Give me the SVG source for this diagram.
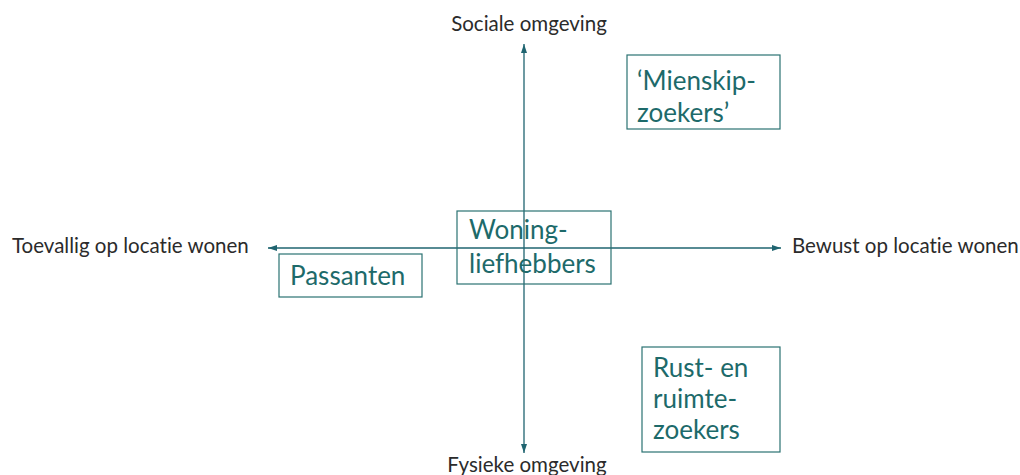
<svg xmlns="http://www.w3.org/2000/svg" width="1020" height="475" viewBox="0 0 1020 475">
<defs>
<marker id="ah" markerWidth="9" markerHeight="8" refX="9" refY="4" orient="auto" markerUnits="userSpaceOnUse">
<path d="M0,1 L9,4 L0,7 Z" fill="#1f6470"/>
</marker>
<style>
.ax{stroke:#1f6470;stroke-width:1.3;fill:none}
.lbl{font-family:Lato,"Liberation Sans",sans-serif;font-size:20.5px;fill:#2b2b2b;font-variant-ligatures:none}
.box{fill:none;stroke:#2a7272;stroke-width:1.2}
.nt{font-family:Lato,"Liberation Sans",sans-serif;font-size:26px;fill:#1d6a6a;font-variant-ligatures:none}
</style>
</defs>
<rect width="1020" height="475" fill="#ffffff"/>
<g id="connectors">
<line class="ax" x1="524" y1="248" x2="524" y2="44" marker-end="url(#ah)"/>
<line class="ax" x1="524" y1="248" x2="524" y2="453" marker-end="url(#ah)"/>
<line class="ax" x1="524" y1="248" x2="268" y2="248" marker-end="url(#ah)"/>
<line class="ax" x1="524" y1="248" x2="781" y2="248" marker-end="url(#ah)"/>
</g>
<g id="axis-labels">
<text class="lbl" x="529" y="31" text-anchor="middle">Sociale omgeving</text>
<text class="lbl" x="527" y="472" text-anchor="middle">Fysieke omgeving</text>
<text class="lbl" x="12" y="253">Toevallig op locatie wonen</text>
<text class="lbl" x="792" y="253">Bewust op locatie wonen</text>
</g>
<g id="mienskipzoekers">
<rect class="box" x="627" y="55" width="153" height="74"/>
<text class="nt" x="637" y="90">‘Mienskip-</text>
<text class="nt" x="637" y="122">zoekers’</text>
</g>
<g id="woningliefhebbers">
<rect class="box" x="457" y="211" width="154" height="73"/>
<text class="nt" x="469" y="239">Woning-</text>
<text class="nt" x="469" y="273">liefhebbers</text>
</g>
<g id="passanten">
<rect class="box" x="279" y="254" width="143" height="43"/>
<text class="nt" x="290" y="285">Passanten</text>
</g>
<g id="rust-en-ruimtezoekers">
<rect class="box" x="642" y="347" width="138" height="105"/>
<text class="nt" x="653" y="377">Rust- en</text>
<text class="nt" x="653" y="408">ruimte-</text>
<text class="nt" x="653" y="439">zoekers</text>
</g>
</svg>
